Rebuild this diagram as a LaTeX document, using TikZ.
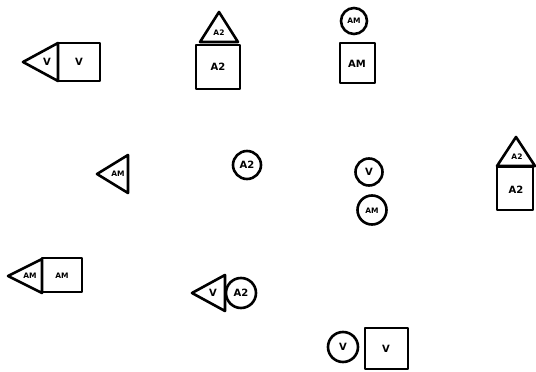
\documentclass[tikz,border=0pt]{standalone}
\usepackage{fontspec}
\setmainfont{DejaVu Sans}
\begin{document}
\begin{tikzpicture}[x=1pt,y=-1pt,
  shp/.style={draw=black,line width=2.6pt,line join=round},
  lbl/.style={font=\bfseries\fontsize{10}{10}\selectfont,inner sep=0pt},
  slbl/.style={font=\bfseries\fontsize{7.5}{7.5}\selectfont,inner sep=0pt}]
\useasboundingbox (0,0) rectangle (536,372);
\fill[white] (0,0) rectangle (536,372);
% 1
\draw[shp] (58,43) -- (23,62) -- (58,81) -- cycle;
\draw[shp] (58,43) rectangle (100,81);
\node[lbl] (t1) at (47,62) {V};
\node[lbl] (s1) at (79,62) {V};
% 2
\draw[shp] (200,42) -- (219,12) -- (238,42) -- cycle;
\draw[shp] (196,45) rectangle (240,89);
\node[slbl] (t2) at (219,33) {A2};
\node[lbl] (s2) at (218,67) {A2};
% 3
\draw[shp] (354,21) circle (13);
\node[slbl] (c3) at (354,21) {AM};
\draw[shp] (340,43) rectangle (375,83);
\node[lbl] (s3) at (357,64) {AM};
% 4
\draw[shp] (128,155) -- (97,174) -- (128,193) -- cycle;
\node[slbl] (t4) at (118,174) {AM};
% 5
\draw[shp] (247,165) circle (14);
\node[lbl] (c5) at (247,165) {A2};
% 6
\draw[shp] (369,172) circle (13.5);
\node[lbl] (c6a) at (369,172) {V};
\draw[shp] (372,210) circle (14.5);
\node[slbl] (c6b) at (372,211) {AM};
% 7
\draw[shp] (497,166) -- (516,137) -- (535,166) -- cycle;
\draw[shp] (497,167) rectangle (533,210);
\node[slbl] (t7) at (517,157) {A2};
\node[lbl] (s7) at (516,190) {A2};
% 8
\draw[shp] (42,259) -- (8,276) -- (42,293) -- cycle;
\draw[shp] (42,258) rectangle (82,292);
\node[slbl] (t8) at (30,276) {AM};
\node[slbl] (s8) at (62,276) {AM};
% 9
\draw[shp] (225,275) -- (192,293) -- (225,311) -- cycle;
\draw[shp] (241,293) circle (15);
\node[lbl] (t9) at (213,293) {V};
\node[lbl] (c9) at (241,293) {A2};
% 10
\draw[shp] (343,347) circle (15);
\node[lbl] (c10) at (343,347) {V};
\draw[shp] (365,328) rectangle (408,369);
\node[lbl] (s10) at (386,349) {V};
\end{tikzpicture}
\end{document}
